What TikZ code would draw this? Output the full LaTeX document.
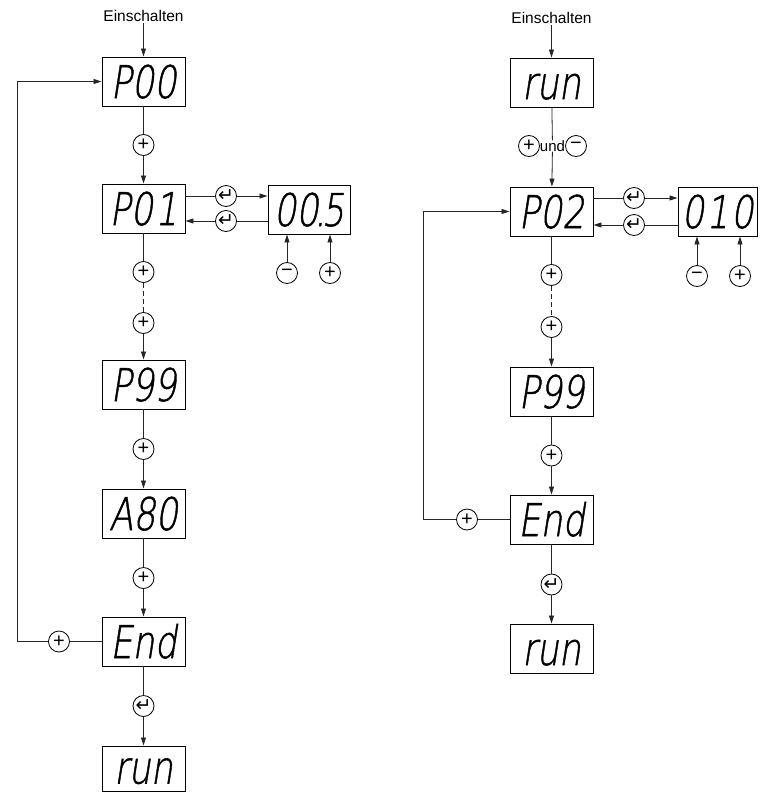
\documentclass[tikz,border=0pt]{standalone}
\usepackage{fontspec}
\usepackage{graphicx}
\setmainfont{Liberation Sans}
\newfontfamily\symfont{DejaVu Sans}
\newfontfamily\segfont[FakeSlant=0.2,FakeBold=1.2]{DejaVu Sans ExtraLight}
\usetikzlibrary{arrows.meta}
\newcommand\dtxt[1]{\scalebox{0.78}[1]{#1}}
\newcommand\entr{{\symfont\fontsize{19}{19}\selectfont ↵}}
\begin{document}
\begin{tikzpicture}[x=1pt,y=-1pt,
  disp/.style={draw, line width=0.9pt, minimum width=83pt, minimum height=49pt,
    inner sep=0pt, text height=33pt, text depth=0pt,
    font=\segfont\fontsize{45}{45}\selectfont},
  key/.style={draw, circle, line width=0.8pt, minimum size=21pt, inner sep=0pt,
    font=\fontsize{20}{20}\selectfont},
  txt/.style={inner sep=1pt, font=\fontsize{15.5}{18}\selectfont},
  conn/.style={line width=0.8pt, draw=black!85},
  arr/.style={conn, -{Triangle[length=8pt,width=5pt]}}]
\useasboundingbox (0,0) rectangle (762,792);

% ---------- left column ----------
\node[txt] (ein1) at (143.5,16) {Einschalten};
\node[disp] (p00) at (143.5,81.5) {\dtxt{P00}};
\node[key] (k1) at (143.5,145) {+};
\node[disp] (p01) at (143.5,208.5) {\dtxt{P0\kern3pt 1}};
\node[key] (e1) at (226,196) {\entr};
\node[key] (e2) at (226,221) {\entr};
\node[disp, minimum width=82pt] (v1) at (309,209.5) {\dtxt{00\kern-5pt.\kern-5pt5}};
\node[key] (m1) at (287,273) {−};
\node[key] (pl1) at (330,273) {+};
\node[key] (k2) at (143.5,272) {+};
\node[key] (k3) at (143.5,323) {+};
\node[disp] (p99) at (143.5,384.5) {\dtxt{P99}};
\node[key] (k4) at (143.5,449) {+};
\node[disp] (a80) at (143.5,513.5) {\dtxt{A80}};
\node[key] (k5) at (143.5,578) {+};
\node[disp] (end1) at (143.5,641.5) {\dtxt{End}};
\node[key] (k6) at (59,641.5) {+};
\node[key] (e3) at (143.5,706) {\entr};
\node[disp, minimum height=45pt, text height=30pt] (run1) at (143.5,768.5) {\dtxt{run}};
\coordinate (c1) at (17,641.5);

\draw[arr] (ein1) -- (p00);
\draw[conn] (p00) -- (k1);
\draw[arr] (k1) -- (p01);
\draw[conn] (p01.east |- e1) -- (e1);
\draw[arr] (e1) -- (v1.west |- e1);
\draw[conn] (v1.west |- e2) -- (e2);
\draw[arr] (e2) -- (p01.east |- e2);
\draw[arr] (m1) -- (m1 |- v1.south);
\draw[arr] (pl1) -- (pl1 |- v1.south);
\draw[conn] (p01) -- (k2);
\draw[conn, dash pattern=on 5pt off 3pt] (k2) -- (k3);
\draw[arr] (k3) -- (p99);
\draw[conn] (p99) -- (k4);
\draw[arr] (k4) -- (a80);
\draw[conn] (a80) -- (k5);
\draw[arr] (k5) -- (end1);
\draw[conn] (end1) -- (k6);
\draw[arr] (k6) -- (c1) |- (p00.west);
\draw[conn] (end1) -- (e3);
\draw[arr] (e3) -- (run1);

% ---------- right column ----------
\node[txt] (ein2) at (551.5,18) {Einschalten};
\node[disp] (run2) at (551.5,82.5) {\dtxt{run}};
\node[key] (k7) at (529,146) {+};
\node[txt, inner sep=0pt, font=\fontsize{15}{18}\selectfont] (und) at (552.5,146) {und};
\node[key] (m2) at (576,146) {−};
\node[disp] (p02) at (551.5,211.5) {\dtxt{P02}};
\node[key] (e4) at (634,198) {\entr};
\node[key] (e5) at (634,225) {\entr};
\node[disp, minimum width=79pt] (v2) at (717.5,211.5) {\dtxt{0\kern3pt1\kern3pt0}};
\node[key] (m3) at (697,276) {−};
\node[key] (pl3) at (740,276) {+};
\node[key] (k8) at (551.5,275) {+};
\node[key] (k9) at (551.5,327) {+};
\node[disp] (p99b) at (551.5,391.5) {\dtxt{P99}};
\node[key] (k10) at (551.5,455.5) {+};
\node[disp] (end2) at (551.5,519.5) {\dtxt{End}};
\node[key] (k11) at (467,519.5) {+};
\node[key] (e6) at (551.5,584.5) {\entr};
\node[disp] (run3) at (551.5,648.5) {\dtxt{run}};
\coordinate (c3) at (423,519.5);

\draw[arr] (ein2) -- (run2);
\draw[conn] (run2) -- (und);
\draw[arr] (und) -- (p02);
\draw[conn] (p02.east |- e4) -- (e4);
\draw[arr] (e4) -- (v2.west |- e4);
\draw[conn] (v2.west |- e5) -- (e5);
\draw[arr] (e5) -- (p02.east |- e5);
\draw[arr] (m3) -- (m3 |- v2.south);
\draw[arr] (pl3) -- (pl3 |- v2.south);
\draw[conn] (p02) -- (k8);
\draw[conn, dash pattern=on 5pt off 3pt] (k8) -- (k9);
\draw[arr] (k9) -- (p99b);
\draw[conn] (p99b) -- (k10);
\draw[arr] (k10) -- (end2);
\draw[conn] (end2) -- (k11);
\draw[arr] (k11) -- (c3) |- (p02.west);
\draw[conn] (end2) -- (e6);
\draw[arr] (e6) -- (run3);
\end{tikzpicture}
\end{document}
